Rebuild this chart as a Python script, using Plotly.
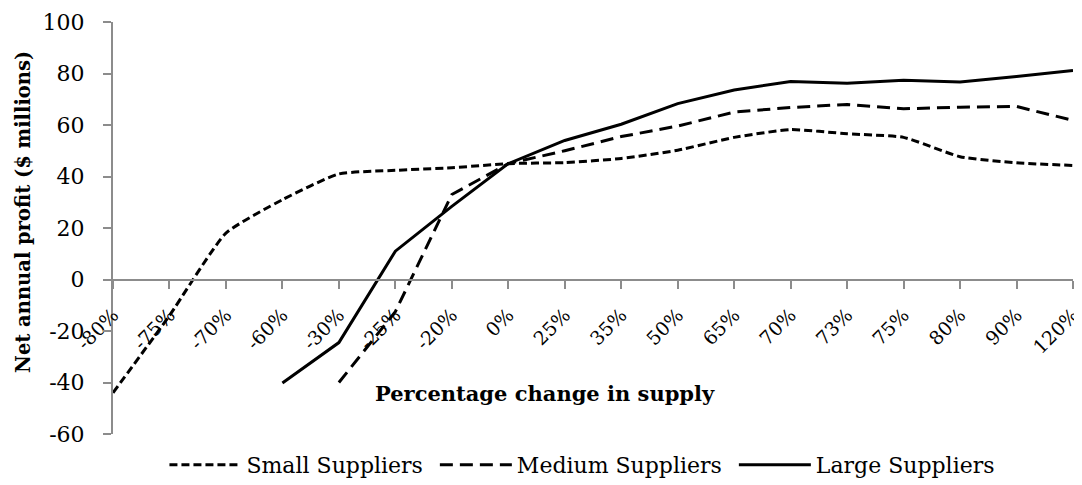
import plotly.graph_objects as go

categories = ['-80%', '-75%', '-70%', '-60%', '-30%', '-25%', '-20%', '0%', '25%', '35%',
              '50%', '65%', '70%', '73%', '75%', '80%', '90%', '120%']
small = [-44, -14, 18, 31, 41, 42.4, 43.4, 45, 45.4, 47, 50.2, 55.2, 58.2, 56.6, 55.2, 47.7, 45.3, 44.3]
medium = [None, None, None, None, -40, -12.5, 33, 45, 50, 55.5, 59.6, 65, 66.8, 68, 66.3, 66.9, 67.2, 61.8]
large = [None, None, None, -40.2, -24.5, 11, 28.4, 45, 54, 60.3, 68.3, 73.6, 76.9, 76.2, 77.4, 76.7, 78.8, 81.2]
y_ticks = [-60, -40, -20, 0, 20, 40, 60, 80, 100]
y_tick_labels = ['-60', '-40', '-20', '0', '20', '40', '60', '80', '100']
series_names = ["Small Suppliers", "Medium Suppliers", "Large Suppliers"]

FONT = "DejaVu Serif"
AX = "#8c8c8c"
PAD = "\u00a0"  # small spacer between legend entries

fig = go.Figure()
fig.add_trace(go.Scatter(x=categories, y=small, mode="lines", name=series_names[0] + PAD,
                         line=dict(color="black", width=3, dash="8px,4px", shape="spline", smoothing=0.5)))
fig.add_trace(go.Scatter(x=categories, y=medium, mode="lines", name=series_names[1] + PAD,
                         line=dict(color="black", width=3, dash="13px,7px")))
fig.add_trace(go.Scatter(x=categories, y=large, mode="lines", name=series_names[2],
                         line=dict(color="black", width=3)))

# page body has an 8px margin, so the figure is drawn 8px right/down
fig.update_layout(
    template="none",
    width=1074, height=477,
    margin=dict(l=105, r=9, t=14, b=51, autoexpand=False),
    paper_bgcolor="white", plot_bgcolor="white",
    font=dict(family=FONT, size=22, color="black"),
    showlegend=True,
    legend=dict(orientation="h", x=0.489, xanchor="center", y=-0.075, yanchor="middle",
                font=dict(family=FONT, size=22), itemwidth=72, tracegroupgap=0,
                bgcolor="rgba(0,0,0,0)"),
    xaxis=dict(type="category", categoryorder="array", categoryarray=categories,
               range=[0, 17], anchor="free", position=0.375, automargin=False,
               showline=True, linecolor=AX, linewidth=2, ticks="outside", ticklen=8,
               tickcolor=AX, tickwidth=2, tickangle=-45, showgrid=False, zeroline=False,
               ticklabelstandoff=8, tickfont=dict(family=FONT, size=19)),
    yaxis=dict(range=[-60, 100], tickvals=y_ticks, ticktext=y_tick_labels, automargin=False,
               showline=True, linecolor=AX, linewidth=2,
               ticks="outside", ticklen=8, tickcolor=AX, tickwidth=2, showgrid=False,
               zeroline=False, ticklabelstandoff=14, tickfont=dict(family=FONT, size=22)),
    annotations=[
        dict(text="<b>Percentage change in supply</b>", xref="paper", yref="paper",
             x=0.45, y=0.0995, xanchor="center", yanchor="middle", showarrow=False,
             font=dict(family=FONT, size=21)),
        dict(text="<b>Net annual profit ($ millions)</b>", xref="paper", yref="paper",
             x=-0.0927, y=0.539, xanchor="center", yanchor="middle", textangle=-90,
             showarrow=False, font=dict(family=FONT, size=19.5)),
    ],
)

fig.write_html("out.html")
